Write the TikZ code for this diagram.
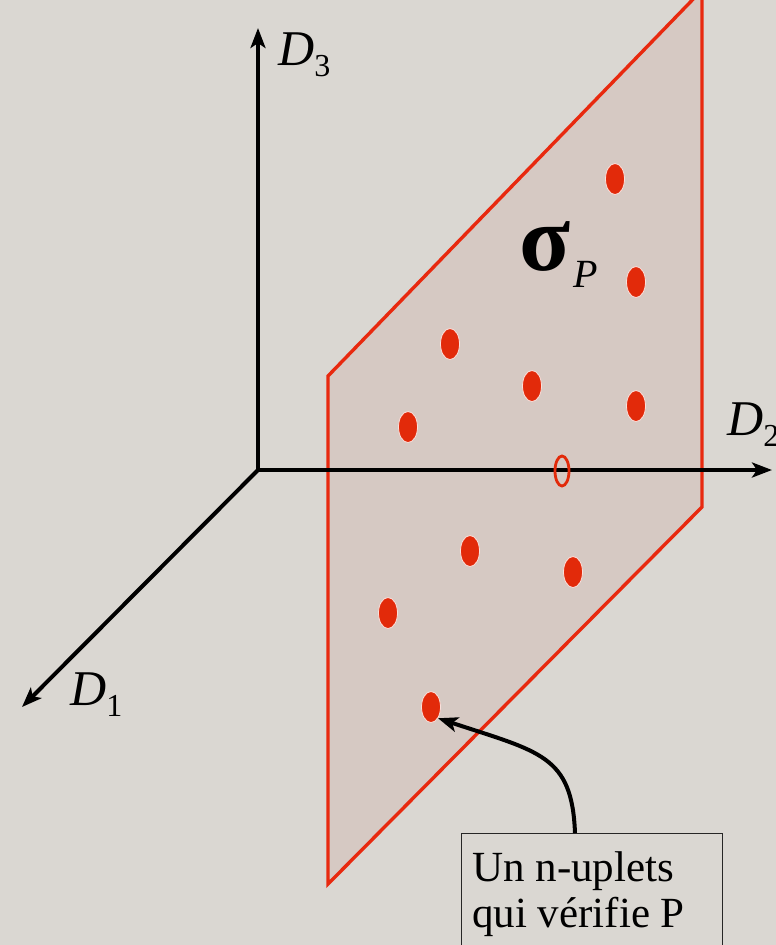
\documentclass[tikz,border=0pt]{standalone}
\usepackage{fontspec}
\setmainfont{Liberation Serif}
\usetikzlibrary{arrows.meta,shapes.geometric}
\definecolor{paper}{HTML}{DAD7D2}
\definecolor{planefill}{HTML}{D6C9C3}
\definecolor{planered}{HTML}{E8290F}
\definecolor{dotred}{HTML}{E22A0A}
\tikzset{
  axis/.style={line width=4pt, -{Stealth[length=20pt,width=15pt,inset=5pt]}},
  dotpt/.style={ellipse, draw=white!85!dotred, line width=0.8pt, fill=dotred, minimum width=19pt, minimum height=31pt, inner sep=0pt},
  lab/.style={inner sep=0pt, anchor=base west},
}
\begin{document}
\begin{tikzpicture}[x=1pt,y=-1pt]
\useasboundingbox (0,0) rectangle (776,945);
\fill[paper] (0,0) rectangle (776,945);
% plane
\draw[planered, fill=planefill, line width=3.4pt, line join=miter]
  (328,376) -- (702,-10) -- (702,507) -- (328,884) -- cycle;
% axes
\coordinate (O) at (258,470);
\coordinate (E3) at (258,28);
\coordinate (E2) at (772,470);
\coordinate (E1) at (22,707);
\draw[axis] (O) -- (E3);
\draw[axis] (O) -- (E2);
\draw[axis] (O) -- (E1);
% labels
\node[lab] (d3) at (278,65) {\fontsize{50}{56}\selectfont\itshape D\raisebox{-11pt}{\fontsize{32}{36}\selectfont\upshape 3}};
\node[lab] (d2) at (727,435) {\fontsize{50}{56}\selectfont\itshape D\raisebox{-11pt}{\fontsize{32}{36}\selectfont\upshape 2}};
\node[lab] (d1) at (70,705) {\fontsize{50}{56}\selectfont\itshape D\raisebox{-11pt}{\fontsize{32}{36}\selectfont\upshape 1}};
\node[lab] (sig) at (519,270) {\fontsize{94}{100}\selectfont\bfseries σ\hspace{3pt}\raisebox{-17pt}{\fontsize{40}{44}\selectfont\mdseries\itshape P}};
% dots
\node[dotpt] (p1) at (615,179) {};
\node[dotpt] (p2) at (636,282) {};
\node[dotpt] (p3) at (450,344) {};
\node[dotpt] (p4) at (532,386) {};
\node[dotpt] (p5) at (636,406) {};
\node[dotpt] (p6) at (408,427) {};
\node[dotpt] (p7) at (470,551) {};
\node[dotpt] (p8) at (573,572) {};
\node[dotpt] (p9) at (388,613) {};
\node[dotpt] (p10) at (431,707) {};
\node[ellipse, draw=dotred, line width=2.8pt, minimum width=14pt, minimum height=30pt, inner sep=0pt] (h) at (562,471) {};
% box
\node[draw=black!85, line width=1.2pt, fill=paper, anchor=north west, minimum width=261pt, minimum height=130pt, inner sep=0pt] (box) at (461,833) {};
\node[lab] (t1) at (472,881) {\fontsize{43}{48}\selectfont Un n-uplets};
\node[lab] (t2) at (472,927) {\fontsize{43}{48}\selectfont qui vérifie P};
\coordinate (bt) at (575,833);
\draw[line width=4pt, -{Stealth[length=20pt,width=15pt,inset=5pt]}] (bt) .. controls (572,755) and (540,752) .. (p10.south east);
\end{tikzpicture}
\end{document}
